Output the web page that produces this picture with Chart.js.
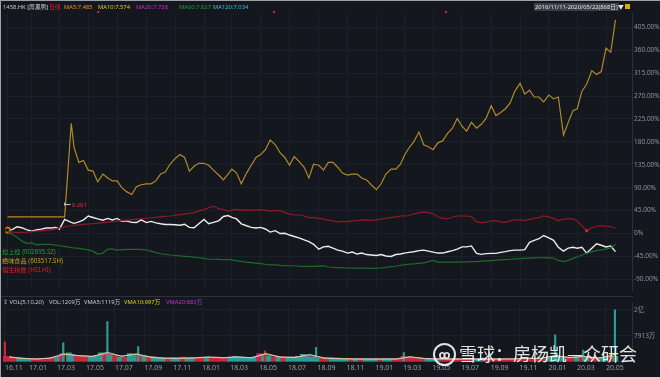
<!DOCTYPE html>
<html><head><meta charset="utf-8">
<script src="https://cdn.jsdelivr.net/npm/chart.js@4/dist/chart.umd.min.js"></script>
<style>
html,body{margin:0;padding:0;background:#14171e;width:660px;height:377px;overflow:hidden;font-family:"Noto Sans","Noto Sans CJK SC",sans-serif;}
#wrap{position:relative;width:660px;height:377px;border-top:1px solid #9da1a8;border-left:1px solid #9da1a8;box-sizing:border-box;}
canvas{position:absolute;left:-1px;}
.t{position:absolute;white-space:nowrap;font-size:5.8px;line-height:8px;z-index:5;}
.lg{font-size:6.2px;}
.hl{position:absolute;left:0;width:632px;height:1px;background:#2b303b;z-index:4;}
#wm{position:absolute;left:458px;top:340px;font-size:18px;line-height:24px;color:rgba(255,255,255,0.88);font-family:"Noto Sans CJK SC",sans-serif;z-index:6;white-space:nowrap;}
#logo{position:absolute;left:432px;top:342px;width:19px;height:19px;border:2px solid rgba(255,255,255,0.88);border-radius:50%;z-index:6;color:rgba(255,255,255,0.88);font-size:12px;line-height:19px;text-align:center;font-weight:bold;}
</style></head><body>
<div id="wrap">
<canvas id="main" width="660" height="296" style="top:-1px"></canvas>
<canvas id="vol" width="660" height="77" style="top:296px"></canvas>
<div class="hl" style="top:295px"></div>

<div class="t" style="left:2px;top:2px;color:#c9cbd0">1458.HK [周黑鸭]</div>
<div class="t" style="left:48px;top:2px;color:#e0262c">日线</div>
<div class="t" style="left:63px;top:2px;color:#e8932a">MA5:7.485</div>
<div class="t" style="left:97px;top:2px;color:#d9d21c">MA10:7.574</div>
<div class="t" style="left:135px;top:2px;color:#cf2ccf">MA20:7.728</div>
<div class="t" style="left:178px;top:2px;color:#1e9e33">MA60:7.627</div>
<div class="t" style="left:212px;top:2px;color:#36c3d1">MA120:7.034</div>
<div class="t" style="left:533px;top:2px;color:#e6e6e6;background:#3a3e47;padding:0 1px">2016/11/11-2020/05/22(868日)</div>
<div class="t" style="left:617px;top:2px;color:#e6e6e6">▼</div>
<div class="t" style="left:624px;top:3px;width:5px;height:5px;background:#d8a818"></div>

<div class="t lg" style="left:1px;top:247px;color:#22a235">煌上煌 (002695.SZ)</div>
<div class="t lg" style="left:1px;top:256px;color:#c9a21c">绝味食品 (603517.SH)</div>
<div class="t lg" style="left:1px;top:265px;color:#d8222a">恒生指数 (HSI.HI)</div>

<div class="t" style="left:2px;top:297px;color:#c9cbd0">⇪ VOL(5,10,20)</div>
<div class="t" style="left:48px;top:297px;color:#c9cbd0">VOL:1209万</div>
<div class="t" style="left:83px;top:297px;color:#c9cbd0">VMA5:1119万</div>
<div class="t" style="left:123px;top:297px;color:#d9d21c">VMA10:997万</div>
<div class="t" style="left:165px;top:297px;color:#cf2ccf">VMA20:883万</div>

<div id="logo">ꝏ</div>
<div id="wm">雪球：房杨凯—众研会</div>
</div>
<script>
// ---------- data ----------
const dates = ['2016-11-11','2016-11-21','2016-12-01','2016-12-11','2016-12-21',
'2017-01-01','2017-01-11','2017-01-21','2017-02-01','2017-02-11','2017-02-21','2017-03-01','2017-03-12','2017-03-26','2017-04-01','2017-04-11','2017-04-21','2017-05-01','2017-05-11','2017-05-21','2017-06-01','2017-06-11','2017-06-21','2017-07-01','2017-07-11','2017-07-21','2017-08-01','2017-08-11','2017-08-21','2017-09-01','2017-09-11','2017-09-21','2017-10-01','2017-10-11','2017-10-21','2017-11-01','2017-11-11','2017-11-21','2017-12-01','2017-12-11','2017-12-21',
'2018-01-01','2018-01-11','2018-01-21','2018-02-01','2018-02-11','2018-02-21','2018-03-01','2018-03-11','2018-03-21','2018-04-01','2018-04-11','2018-04-21','2018-05-01','2018-05-11','2018-05-21','2018-06-01','2018-06-11','2018-06-21','2018-07-01','2018-07-11','2018-07-21','2018-08-01','2018-08-11','2018-08-21','2018-09-01','2018-09-11','2018-09-21','2018-10-01','2018-10-11','2018-10-21','2018-11-01','2018-11-11','2018-11-21','2018-12-01','2018-12-11','2018-12-21',
'2019-01-01','2019-01-11','2019-01-21','2019-02-01','2019-02-11','2019-02-21','2019-03-01','2019-03-11','2019-03-21','2019-04-01','2019-04-11','2019-04-21','2019-05-01','2019-05-11','2019-05-21','2019-06-01','2019-06-11','2019-06-21','2019-07-01','2019-07-11','2019-07-21','2019-08-01','2019-08-11','2019-08-21','2019-09-01','2019-09-11','2019-09-21','2019-10-01','2019-10-11','2019-10-21','2019-11-01','2019-11-11','2019-11-21','2019-12-01','2019-12-11','2019-12-21',
'2020-01-01','2020-01-11','2020-01-21','2020-02-01','2020-02-11','2020-02-21','2020-03-01','2020-03-11','2020-03-21','2020-04-01','2020-04-11','2020-04-21','2020-05-01','2020-05-11','2020-05-21'];

// 周黑鸭 1458.HK (% change)
const zhouHeiYa = [6.7,7.7,13.4,11.5,7.7,
4.8,7.1,8.6,10.9,10.9,12.1,8.6,27.8,22,20.1,23,26.8,34.5,31.6,28.7,26.2,29.7,26.8,29.7,23.9,24.9,22,21.6,26.8,21.6,23.9,21.1,19.2,17.8,17.8,17.2,16.3,18.2,12.1,11.5,19.2,
27.8,19.2,22,24.9,33.5,35.4,31.6,28.7,19.2,15.3,12.1,10.9,12.1,9,2.9,5.7,0,0.6,-2.9,-5.7,-8.6,-12.4,-15.9,-21.1,-30.6,-26.2,-24.9,-28.7,-32.6,-34.5,-38.3,-36.4,-40.2,-38.3,-41.2,-42.1,
-43.1,-41.2,-44,-45,-41.2,-40.2,-38.3,-37,-35.8,-33.5,-32.6,-34.5,-36.4,-38.3,-38.3,-35.8,-33.5,-30.6,-26.2,-26.2,-24.3,-38.9,-40.8,-39.3,-38.9,-38.9,-37,-35.4,-33.5,-32.6,-32.6,-31.6,-17.2,-13.4,-10.1,-3.8,
-8.6,-13.4,-26.8,-34.5,-28.7,-26.8,-28.7,-26.8,-38.3,-28.7,-20.1,-23,-26.2,-24.3,-35.4];

// 绝味食品 603517.SH (% change)
const jueWei = [32.6,32.6,32.6,32.6,32.6,
32.6,32.6,32.6,32.6,32.6,32.6,32.6,32.6,216.4,168.5,139.8,143.6,124.5,122.6,101.5,116.8,109.2,103.4,103.4,90,82.3,76.6,91.9,95.8,97.7,97.7,103.4,116.8,120.6,136,147.5,155.1,149.4,122.6,132.1,137.9,
137.9,134.1,124.5,114.9,105.3,116.8,126.4,118.7,97.7,118.7,134.1,149.4,155.1,164.7,183.8,174.3,159,149.4,134.1,151.3,141.7,130.2,109.2,136,134.1,124.5,139.8,139.8,130.2,118.7,114.9,116.8,116.8,109.2,105.3,95.8,
86.2,97.7,116.8,126.4,126.4,136,153.2,168.5,180,199.2,174.3,170.4,164.7,178.1,181.9,197.2,206.8,226,210.7,201.1,218.3,206.8,214.5,226,250.9,231.7,237.5,245.1,256.6,279.6,294.9,273.8,281.5,268.1,268.1,258.5,
271.9,264.3,268.1,193.4,218.3,241.3,245.1,279.6,293,319.8,312.1,317.9,363.9,356.2,419.4];

// 恒生指数 HSI.HI (% change)
const hsi = [3.8,2.9,2.5,2.5,2.9,
3.8,4.8,5.4,6.1,6.7,8.6,10.9,13.4,15.3,16.3,17.2,18.2,18.8,19.5,20.5,21.6,22.6,23.6,24.5,25.3,26.2,27.2,28.2,29.1,30.1,31,32,32.9,33.9,34.5,35.8,37,38.3,39.8,41.2,44.4,
46.9,50.7,53.6,48.8,47.3,44,46,47.3,45.4,46.5,46,45.4,46.9,46,44,45,45,41.2,38.3,36.4,36.4,34.5,31.2,31.2,29.7,28.2,26.2,24.9,23,23.9,23.4,24.9,25.3,26.2,26.8,25.9,
26.8,28.2,29.7,31.2,32.6,34.5,34.9,35.4,38.3,40.8,42.1,41.2,38.3,33.1,29.7,29.1,32,34.5,34.5,34.5,33.5,23,21.6,22.4,24.9,24.9,23,22,24.9,26.8,26.8,25.3,27.8,29.7,31.2,34.5,
32.6,29.7,24.9,28.2,28.7,28.7,24.9,15.3,5.7,11.5,14.4,15.3,14,13.4,10.5];

// 煌上煌 002695.SZ (% change)
const huangShangHuang = [3.8,-1.9,-7.1,-14.4,-19.2,
-18.2,-22,-21.1,-21.1,-21.1,-22.6,-23.9,-25.3,-27.8,-28.3,-29.1,-30.6,-32,-34.5,-40.2,-38.3,-30.6,-30.6,-32.6,-31.6,-31.2,-31.2,-31.2,-31.2,-32.6,-34.5,-37.3,-39.6,-40.8,-42.1,-43.1,-44,-44.6,-45.4,-46.3,-47.5,
-48.8,-50.4,-50.4,-50.7,-51.7,-50.7,-51.7,-53.2,-54.6,-56.1,-57.1,-58,-59,-60.3,-61.3,-61.3,-62.6,-63.2,-63.2,-63.2,-64.2,-64.5,-64.5,-64.5,-63.8,-63.6,-65.7,-66.1,-67,-67,-67.6,-68,-68,-67.6,-68,-68.4,
-68,-67.6,-66.5,-65.1,-64.2,-62.2,-61.3,-59.9,-59.4,-58.4,-57.5,-55,-52.7,-56.1,-56.1,-56.1,-56.1,-56.1,-55.9,-55.5,-55.2,-55,-54.2,-53.6,-53,-52.3,-51.7,-51.1,-50.4,-49.8,-49.2,-48.6,-48.3,-47.9,-47.5,-47.3,
-47.9,-48.5,-52.7,-55,-52.7,-48.8,-46,-42.1,-38.9,-35.4,-33.5,-32.2,-30.6,-27.8,-21.1];

// volume (万股)
const volume = [1650,1350,1100,1050,850,
800,850,780,820,1100,1350,1650,2450,2700,2150,1650,1600,1350,1650,1900,2700,2450,1900,1600,1350,1400,2450,2200,1900,1600,1350,1350,1100,1050,1100,1100,1050,1350,1100,1050,1100,
1350,1400,1300,1350,1100,1050,1350,1650,1350,1100,1050,1350,2450,2200,1650,1350,1400,1100,1050,1350,1650,2200,1650,1350,1100,1050,1100,1050,1100,820,850,800,820,850,800,820,
820,800,850,820,850,1100,1650,1350,1100,1050,820,850,800,820,850,800,820,850,800,820,800,850,820,800,850,820,800,850,820,800,850,820,1100,1050,1100,820,
1350,1650,1600,1350,1100,1050,1350,1650,1350,1100,1050,1100,1050,1350,1650];
const spikeDates = ['2016-11-11','2017-03-14','2017-06-15','2017-08-19','2018-05-13','2018-08-29','2019-03-02','2020-01-15','2020-03-14','2020-05-20'];
const spikeVol = [6000,5730,12280,4640,3280,4370,2730,8190,3550,15830];
const spikeUp = [true,false,false,false,true,false,false,false,false,false];

const vmaDates = ['2016-11-20','2016-12-15','2017-01-15','2017-02-15','2017-03-15','2017-04-15','2017-05-15','2017-06-15','2017-07-15','2017-08-15','2017-09-15','2017-10-15','2017-11-15','2017-12-15',
'2018-01-15','2018-02-15','2018-03-15','2018-04-15','2018-05-15','2018-06-15','2018-07-15','2018-08-15','2018-09-15','2018-10-15','2018-11-15','2018-12-15',
'2019-01-15','2019-02-15','2019-03-15','2019-04-15','2019-05-15','2019-06-15','2019-07-15','2019-08-15','2019-09-15','2019-10-15','2019-11-15','2019-12-15',
'2020-01-15','2020-02-15','2020-03-15','2020-04-15','2020-05-20'];
const vma5 = [1500,1000,780,1100,2400,1800,1550,2900,1600,2400,1300,1000,1000,1150,1400,1150,1450,1150,2500,1350,1250,2200,1050,900,800,780,780,800,1500,920,800,780,780,780,780,800,1000,1000,1900,1200,1650,1050,2200];
const vma10 = [1400,1050,800,1050,2200,1850,1600,2500,1700,2200,1400,1050,1050,1100,1350,1200,1400,1200,2300,1400,1300,2000,1100,950,820,800,800,800,1400,950,820,800,800,800,800,820,980,980,1700,1250,1550,1100,1700];
const vma20 = [1300,1100,850,1000,1900,1900,1600,2200,1800,2000,1500,1100,1100,1100,1300,1250,1350,1250,2000,1500,1350,1800,1200,1000,850,820,820,820,1250,1000,850,820,820,820,820,820,950,950,1500,1300,1450,1150,1500];

const xTickDates = ['2016-11-11','2017-01-01','2017-03-01','2017-05-01','2017-07-01','2017-09-01','2017-11-01','2018-01-01','2018-03-01','2018-05-01','2018-07-01','2018-09-01','2018-11-01','2019-01-01','2019-03-01','2019-05-01','2019-07-01','2019-09-01','2019-11-01','2020-01-01','2020-03-01','2020-05-01'];
const xTickLabels = ['16.11','17.01','17.03','17.05','17.07','17.09','17.11','18.01','18.03','18.05','18.07','18.09','18.11','19.01','19.03','19.05','19.07','19.09','19.11','20.01','20.03','20.05'];
const yTicks = [-90,-45,0,45,90,135,180,225,270,315,360,405];
const yTickLabels = ['-90.00%','-45.00%','0%','45.00%','90.00%','135.00%','180.00%','225.00%','270.00%','315.00%','360.00%','405.00%'];
const volTicks = [7913,15826];
const volTickLabels = ['7913万','2亿'];
const maxMark = {date:'2017-03-12', value:57, text:'9.261'};
const eventDates = ['2017-05-22','2018-05-29','2019-05-28'];

// ---------- helpers ----------
const day = s => (Date.UTC(+s.slice(0,4), +s.slice(5,7)-1, +s.slice(8,10)) - Date.UTC(2017,0,1)) / 86400000;
const pts = (ds, vs) => vs.map((v,i) => ({x: day(ds[i]), y: v}));
const FONT = '"Noto Sans","Noto Sans CJK SC",sans-serif';
Chart.defaults.font.family = FONT;
const GRID = '#1c2029';
const X_MIN = -55, X_MAX = 1271;
const RED = '#c9283a', TEAL = '#2a9e94';

const xTicksFn = s => { s.ticks = xTickDates.map(d => ({value: day(d)})); };

const annot = {
  id: 'annot',
  afterDatasetsDraw(chart) {
    const {ctx, scales:{x, y}, chartArea} = chart;
    ctx.save();
    const x0 = x.getPixelForValue(day(maxMark.date)), y0 = y.getPixelForValue(maxMark.value);
    ctx.strokeStyle = '#c8c8c8'; ctx.lineWidth = 1;
    ctx.beginPath(); ctx.moveTo(x0, y0 - 2); ctx.lineTo(x0, y0 + 1); ctx.moveTo(x0, y0); ctx.lineTo(x0 + 6, y0); ctx.stroke();
    ctx.fillStyle = '#d8303a'; ctx.font = '6px ' + FONT; ctx.textBaseline = 'middle';
    ctx.fillText(maxMark.text, x0 + 7, y0 + 0.5);
    ctx.fillStyle = '#d8222a';
    eventDates.forEach(d => { const px = x.getPixelForValue(day(d)); ctx.fillRect(px - 1, chartArea.top - 2, 2, 2); });
    ctx.restore();
  }
};

new Chart(document.getElementById('main'), {
  type: 'line',
  data: { datasets: [
    {data: pts(dates, jueWei), borderColor: '#b08a26', borderWidth: 1.2, pointRadius: 0},
    {data: pts(dates, hsi), borderColor: '#8e1b24', borderWidth: 1.2, pointRadius: c => c.dataIndex === 121 ? 1.6 : 0, pointBackgroundColor: '#e0202a', pointBorderWidth: 0},
    {data: pts(dates, huangShangHuang), borderColor: '#1d6a2b', borderWidth: 1.2, pointRadius: 0},
    {data: pts(dates, zhouHeiYa), borderColor: '#ececec', borderWidth: 1.4, pointRadius: c => c.dataIndex === 0 ? 2.6 : 0,
      pointBorderColor: '#f07a1c', pointBackgroundColor: '#14171e', pointBorderWidth: 1.6}
  ]},
  options: {
    responsive: false, animation: false, events: [],
    plugins: {legend: {display: false}, tooltip: {enabled: false}},
    layout: {padding: {left: 3, top: 13, right: 0, bottom: 0}},
    scales: {
      x: {type: 'linear', min: X_MIN, max: X_MAX, afterBuildTicks: xTicksFn,
          grid: {color: GRID, drawTicks: false}, border: {display: false}, ticks: {display: false}},
      y: {position: 'right', min: -111, max: 433,
          afterBuildTicks: s => { s.ticks = yTicks.map(v => ({value: v})); },
          afterFit: s => { s.width = 28; },
          grid: {color: GRID, drawTicks: false}, border: {display: true, color: '#2b303b'},
          ticks: {color: '#8d9199', font: {size: 6.5}, padding: 2, callback: (v, i) => yTickLabels[i]}}
    }
  },
  plugins: [annot]
});

new Chart(document.getElementById('vol'), {
  type: 'bar',
  data: { datasets: [
    {type: 'line', data: pts(vmaDates, vma5), borderColor: '#d8d8d8', borderWidth: 0.8, pointRadius: 0, order: 0},
    {type: 'line', data: pts(vmaDates, vma10), borderColor: '#d4c81c', borderWidth: 0.8, pointRadius: 0, order: 0},
    {type: 'line', data: pts(vmaDates, vma20), borderColor: '#c424c4', borderWidth: 0.8, pointRadius: 0, order: 0},
    {data: pts(dates, volume), grouped: false, barThickness: 5, order: 2,
      backgroundColor: volume.map((v, i) => (i === 0 || zhouHeiYa[i] >= zhouHeiYa[i-1]) ? RED : TEAL)},
    {data: pts(spikeDates, spikeVol), grouped: false, barThickness: 1.5, order: 1,
      backgroundColor: spikeUp.map(u => u ? RED : TEAL)}
  ]},
  options: {
    responsive: false, animation: false, events: [],
    plugins: {legend: {display: false}, tooltip: {enabled: false}},
    layout: {padding: {left: 3, top: 0, right: 0, bottom: 0}},
    scales: {
      x: {type: 'linear', min: X_MIN, max: X_MAX, offset: false, afterBuildTicks: xTicksFn,
          grid: {color: GRID, drawTicks: false, offset: false}, border: {display: true, color: '#2b303b'},
          ticks: {color: '#9a9ea6', font: {size: 7}, align: 'start', padding: 2, autoSkip: false, maxRotation: 0,
                  callback: (v, i) => xTickLabels[i]}},
      y: {position: 'right', min: 0, max: 17990,
          afterBuildTicks: s => { s.ticks = volTicks.map(v => ({value: v})); },
          afterFit: s => { s.width = 28; },
          grid: {color: GRID, drawTicks: false}, border: {display: true, color: '#2b303b'},
          ticks: {color: '#8d9199', font: {size: 6.5}, padding: 2, callback: (v, i) => volTickLabels[i]}}
    }
  }
});
</script>
</body></html>
